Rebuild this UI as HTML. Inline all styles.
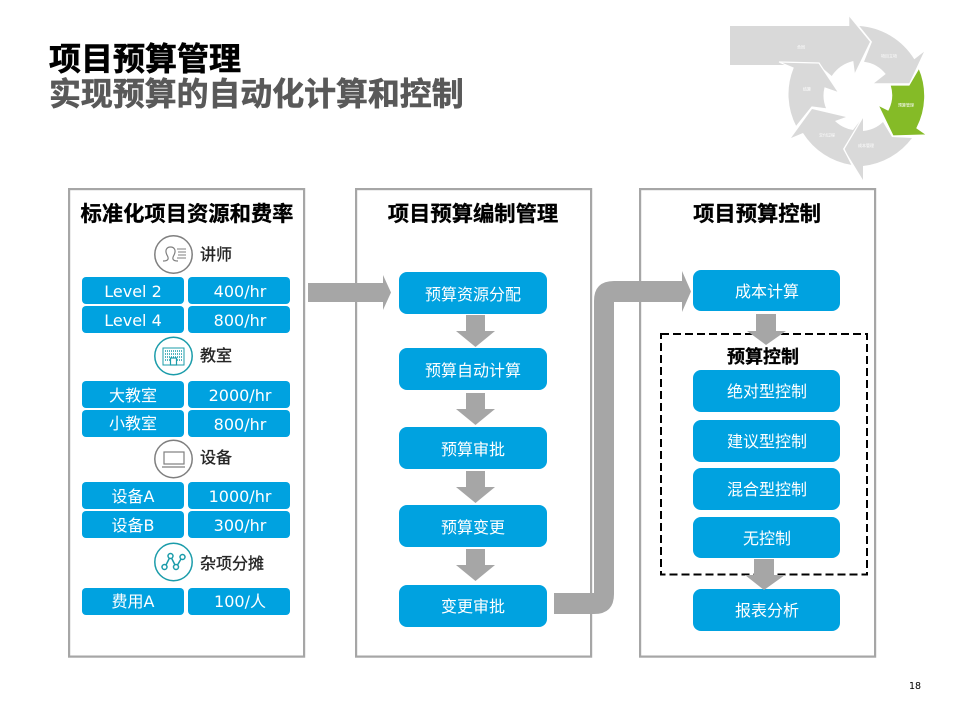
<!DOCTYPE html>
<html lang="zh"><head><meta charset="utf-8"><title>项目预算管理</title>
<style>
html,body{margin:0;padding:0;background:#fff}
svg{display:block}
text{font-family:"Liberation Sans","Noto Sans CJK SC",sans-serif}
.t{font-family:"DejaVu Sans","Noto Sans CJK SC",sans-serif;font-size:16px;fill:#fff;text-anchor:middle}
.b{font-family:"DejaVu Sans","Noto Sans CJK SC",sans-serif;font-size:16px;fill:#fff;text-anchor:middle}
.h{font-family:"Noto Sans CJK SC",sans-serif;font-weight:700;font-size:21.3px;fill:#000;stroke:#000;stroke-width:.3px;text-anchor:middle}
.s{font-family:"Noto Sans CJK SC",sans-serif;font-size:16px;fill:#262626;stroke:#262626;stroke-width:.35px}
.c{font-family:"Noto Sans CJK SC",sans-serif;font-size:4px;fill:#fff;text-anchor:middle}
.p{fill:#00a2e0}
.a{fill:#a6a6a6}
.g{fill:#d9d9d9}
.w{stroke:#fff;stroke-width:1.200px;stroke-linejoin:miter}
</style></head><body>
<svg width="960" height="720" viewBox="0 0 960 720" xmlns="http://www.w3.org/2000/svg">
<rect width="960" height="720" fill="#fff"/>

<!-- title -->
<text x="49" y="70" font-size="32" font-weight="700" fill="#000" stroke="#000" stroke-width=".6" style="font-family:'Noto Sans CJK SC',sans-serif">项目预算管理</text>
<text x="49" y="105" font-size="31.9" font-weight="700" fill="#595959" stroke="#595959" stroke-width=".6" style="font-family:'Noto Sans CJK SC',sans-serif">实现预算的自动化计算和控制</text>

<!-- cycle -->
<path class="g" d="M859.300 26A70 70 0 0 1 914.300 59.300L924 51.700L909.300 83.300H874L885.700 74A33 33 0 0 0 864 61.700L872 41.700Z"/>
<path class="g" d="M912 138A70 70 0 0 1 863 166V180L844 149L863 117V131A33 33 0 0 0 883 122L892 137Z"/>
<path class="g" d="M852 165A70 70 0 0 1 803 133L791 138L812 109L846 117L835 121A33 33 0 0 0 853 130L860 121L843 149Z"/>
<path d="M730 26H849.300V15.700L870.700 41.700L855 74L853.300 61A36 36 0 0 0 831.700 76L820 66L783.300 65H730Z" fill="#d9d9d9"/>
<path class="g w" d="M796 127A70 70 0 0 1 793 68L779 62L819 63L839 93L825 88A33 33 0 0 0 827 109L812 107Z"/>
<path d="M849.300 15.700L870.700 41.700L855 74" fill="none" stroke="#fff" stroke-width="1.200"/>
<path class="w" fill="#85bb27" d="M919 68A70 70 0 0 1 917 128L927 135L893 136L878 105L888 110A33 33 0 0 0 890 85H909Z"/>
<path d="M863 117L844 149L852 165M812 107L796 127" fill="none" stroke="#fff" stroke-width="1.200"/>
<text class="c" x="801" y="48.500">合同</text>
<text class="c" x="889" y="57.500">项目立项</text>
<text class="c" x="906" y="106.500">预算管理</text>
<text class="c" x="866" y="147">成本管理</text>
<text class="c" x="827" y="136.500">交付过程</text>
<text class="c" x="807" y="90.500">结算</text>

<!-- panels -->
<g fill="#fff" stroke="#a6a6a6" stroke-width="2.200">
<rect x="69.100" y="189.100" width="235" height="467.500"/>
<rect x="356.100" y="189.100" width="235" height="467.500"/>
<rect x="640.100" y="189.100" width="235" height="467.500"/>
</g>
<text class="h" x="187" y="221">标准化项目资源和费率</text>
<text class="h" x="473" y="221">项目预算编制管理</text>
<text class="h" x="757" y="221">项目预算控制</text>

<!-- left pills -->
<g class="p">
<rect x="82" y="277" width="102" height="27" rx="4"/><rect x="188" y="277" width="102" height="27" rx="4"/>
<rect x="82" y="306" width="102" height="27" rx="4"/><rect x="188" y="306" width="102" height="27" rx="4"/>
<rect x="82" y="381" width="102" height="27" rx="4"/><rect x="188" y="381" width="102" height="27" rx="4"/>
<rect x="82" y="410" width="102" height="27" rx="4"/><rect x="188" y="410" width="102" height="27" rx="4"/>
<rect x="82" y="482" width="102" height="27" rx="4"/><rect x="188" y="482" width="102" height="27" rx="4"/>
<rect x="82" y="511" width="102" height="27" rx="4"/><rect x="188" y="511" width="102" height="27" rx="4"/>
<rect x="82" y="588" width="102" height="27" rx="4"/><rect x="188" y="588" width="102" height="27" rx="4"/>
</g>
<text class="t" x="133" y="297">Level 2</text><text class="t" x="240" y="297">400/hr</text>
<text class="t" x="133" y="326">Level 4</text><text class="t" x="240" y="326">800/hr</text>
<text class="t" x="133" y="401">大教室</text><text class="t" x="240" y="401">2000/hr</text>
<text class="t" x="133" y="429">小教室</text><text class="t" x="240" y="430">800/hr</text>
<text class="t" x="133" y="502">设备A</text><text class="t" x="240" y="502">1000/hr</text>
<text class="t" x="133" y="531">设备B</text><text class="t" x="240" y="531">300/hr</text>
<text class="t" x="133" y="607">费用A</text><text class="t" x="240" y="607">100/人</text>

<!-- section labels -->
<text class="s" x="200" y="260">讲师</text>
<text class="s" x="200" y="361">教室</text>
<text class="s" x="200" y="463">设备</text>
<text class="s" x="200" y="569">杂项分摊</text>

<!-- icon: lecturer -->
<g fill="none" stroke="#7f7f7f" stroke-width="1.500">
<circle cx="173.500" cy="254.500" r="18.700"/>
<path d="M163 261C168 261 169 259 167.500 256C164 250 167 247 170.500 247C174 247 177 250 173.500 256C172 259 173 261 178 261" stroke-width="1.200"/>
<path d="M177 249H186M178 252H186M178 255H186M177 258H186" stroke-width="1"/>
</g>
<!-- icon: classroom -->
<g fill="none" stroke="#1b9caa" stroke-width="1.500">
<circle cx="173.500" cy="356" r="18.700"/>
<path d="M163 365V348H184V365Z" stroke-width="1"/>
<path d="M165 351H182M165 354H182M165 357H182M165 360H182" stroke-width="1.500" stroke-dasharray="1 1"/>
<rect x="170.500" y="358" width="6" height="7" fill="#fff" stroke-width="1.200"/>
</g>
<!-- icon: laptop -->
<g fill="none" stroke="#7f7f7f" stroke-width="1.500">
<circle cx="173.500" cy="459" r="18.700"/>
<rect x="164" y="452" width="20" height="12" stroke-width="1.200"/>
<path d="M162 467H185" stroke-width="1.200"/>
</g>
<!-- icon: nodes -->
<g fill="none" stroke="#1b9caa" stroke-width="1.500">
<circle cx="173.500" cy="562" r="18.700"/>
<path d="M166 565L169.500 558M171.500 558L175 565M177.500 565L181 559"/>
<circle cx="164.500" cy="567" r="2.500"/><circle cx="170.500" cy="556" r="2.500"/><circle cx="176" cy="567" r="2.500"/><circle cx="182.500" cy="557" r="2.500"/>
</g>

<!-- middle boxes -->
<g class="p">
<rect x="399" y="272" width="148" height="42" rx="8"/>
<rect x="399" y="348" width="148" height="42" rx="8"/>
<rect x="399" y="427" width="148" height="42" rx="8"/>
<rect x="399" y="505" width="148" height="42" rx="8"/>
<rect x="399" y="585" width="148" height="42" rx="8"/>
</g>
<text class="b" x="473" y="300">预算资源分配</text>
<text class="b" x="473" y="376">预算自动计算</text>
<text class="b" x="473" y="455">预算审批</text>
<text class="b" x="473" y="533">预算变更</text>
<text class="b" x="473" y="612">变更审批</text>

<!-- right dashed -->
<rect x="661" y="334" width="206" height="240.500" fill="none" stroke="#000" stroke-width="2" stroke-dasharray="8 4"/>

<!-- right boxes -->
<g class="p">
<rect x="693" y="270" width="147" height="41" rx="8"/>
<rect x="693" y="370" width="147" height="42" rx="8"/>
<rect x="693" y="420" width="147" height="42" rx="8"/>
<rect x="693" y="468" width="147" height="42" rx="8"/>
<rect x="693" y="517" width="147" height="41" rx="8"/>
<rect x="693" y="589" width="147" height="42" rx="8"/>
</g>
<text class="b" x="767" y="297">成本计算</text>
<text class="b" x="767" y="397">绝对型控制</text>
<text class="b" x="767" y="447">建议型控制</text>
<text class="b" x="767" y="495">混合型控制</text>
<text class="b" x="767" y="544">无控制</text>
<text class="b" x="767" y="616">报表分析</text>

<!-- arrows -->
<path class="a" d="M308 283H383V275L391 292.500L383 310V302H308Z"/>
<path class="a" d="M466 315H485V331H495L475.500 347L456 331H466Z"/>
<path class="a" d="M466 393H485V409H495L475.500 425L456 409H466Z"/>
<path class="a" d="M466 471H485V487H495L475.500 503L456 487H466Z"/>
<path class="a" d="M466 549H485V565H495L475.500 581L456 565H466Z"/>
<path class="a" d="M756 314H776V331H786L766 345L747 331H756Z"/>
<path class="a" d="M754 559H774V575H785L764 590L745 575H754Z"/>
<path class="a" d="M554 593H594V301Q594 281 614 281H682V271L691 291.500L682 312V302H614V594Q614 614 594 614H554Z"/>

<text x="763" y="363" font-size="18" font-weight="700" fill="#000" stroke="#000" stroke-width=".3" text-anchor="middle" style="font-family:'Noto Sans CJK SC',sans-serif">预算控制</text>
<text x="915" y="689" font-size="9.500" fill="#000" text-anchor="middle" style="font-family:'DejaVu Sans',sans-serif">18</text>
</svg>
</body></html>
